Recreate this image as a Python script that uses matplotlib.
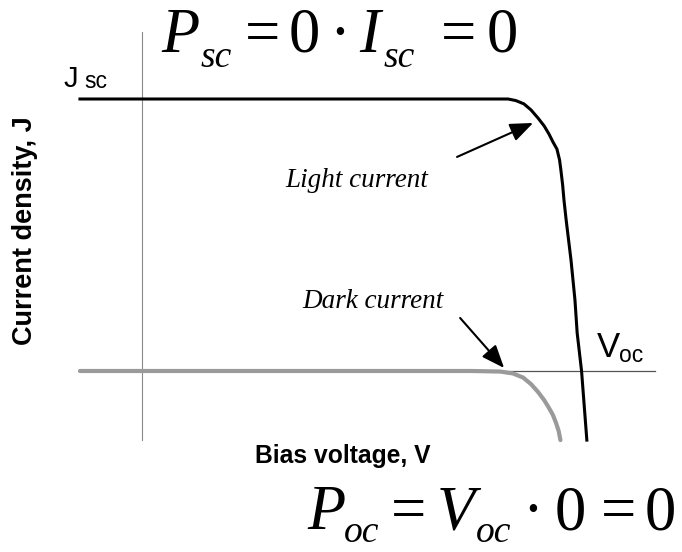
import numpy as np
import matplotlib
matplotlib.use("Agg")
import matplotlib.pyplot as plt

# --------------------------
# DADOS (V normalizado por Voc, J normalizado por Jsc)
# --------------------------

light_v = [-0.141, 0.832, 0.850, 0.868, 0.884, 0.900, 0.914, 0.925, 0.934,
           0.943, 0.949, 0.952, 0.956, 0.959, 0.964, 0.975, 0.984, 0.989,
           0.999, 1.011]
light_j = [1.0, 1.0, 0.994, 0.982, 0.960, 0.930, 0.901, 0.871, 0.842,
           0.816, 0.776, 0.739, 0.684, 0.629, 0.555, 0.408, 0.261, 0.140,
           0.0, -0.254]

dark_v = [-0.141, 0.75, 0.814, 0.843, 0.866, 0.884, 0.900, 0.914, 0.925,
          0.934, 0.941, 0.947, 0.951]
dark_j = [0.0, 0.0, -0.002, -0.009, -0.024, -0.048, -0.077, -0.107, -0.136,
          -0.162, -0.191, -0.221, -0.254]

axis_v = [0.0, 1.166]     # extensão do eixo horizontal
axis_j = [-0.254, 1.246]  # extensão do eixo vertical

# equações, peça a peça: (texto, itálico?, subscrito?)
eq_top = [("P", 1, 0), ("sc", 1, 1), ("=", 0, 0), ("0", 0, 0), ("\u00b7", 0, 0),
          ("I", 1, 0), ("sc", 1, 1), ("=", 0, 0), ("0", 0, 0)]
eq_bottom = [("P", 1, 0), ("oc", 1, 1), ("=", 0, 0), ("V", 1, 0), ("oc", 1, 1),
             ("\u00b7", 0, 0), ("0", 0, 0), ("=", 0, 0), ("0", 0, 0)]

# centros horizontais (px) de cada peça
eq_top_x = [180, 216, 262, 304, 340, 370, 399, 459, 502]
eq_bottom_x = [326, 362, 409, 456, 494, 533, 570, 618, 660]

# --------------------------
# FIGURA
# --------------------------

W, H = 682, 552
plt.rcParams["font.family"] = ["Liberation Sans", "DejaVu Sans"]

fig = plt.figure(figsize=(W / 100, H / 100), dpi=100)
ax = fig.add_axes([0, 0, 1, 1])

# escala: origem em (142, 371) px, Voc -> 440 px, Jsc -> 272 px
ax.set_xlim(-142 / 440, (W - 142) / 440)
ax.set_ylim(-(H - 371) / 272, 371 / 272)
ax.axis("off")


def px(x, y):
    # pixel da imagem -> fração da figura
    return x / W, 1 - y / H


# eixos finos
ax.plot([0, 0], axis_j, color="#8a8a8a", lw=0.8)
ax.plot(axis_v, [0, 0], color="#555555", lw=0.9)

# curvas
ax.plot(dark_v, dark_j, color="#9a9a9a", lw=3.0, solid_capstyle="round",
        solid_joinstyle="round")
ax.plot(light_v, light_j, color="black", lw=2.2, solid_joinstyle="round")

# setas
seta = dict(arrowstyle="-|>,head_length=0.5,head_width=0.2", color="black",
            lw=1.5, mutation_scale=28, shrinkA=0, shrinkB=0)
ax.annotate("", xy=(0.889, 0.912), xytext=(0.716, 0.787), arrowprops=seta)
ax.annotate("", xy=(0.823, 0.011), xytext=(0.723, 0.195), arrowprops=seta)

# textos
serif_it = dict(family="Liberation Serif", style="italic", size=19.5)
fig.text(*px(285, 187), "Light current", ha="left", va="baseline", **serif_it)
fig.text(*px(302, 308), "Dark current", ha="left", va="baseline", **serif_it)

fig.text(*px(64, 87), "J", ha="left", va="baseline", size=21)
fig.text(*px(84, 88), "sc", ha="left", va="baseline", size=16.5)
fig.text(*px(597, 357), "V", ha="left", va="baseline", size=25)
fig.text(*px(619, 362), "oc", ha="left", va="baseline", size=16.5)

fig.text(*px(255, 463), "Bias voltage, V", ha="left", va="baseline",
         size=17.7, weight="bold")
fig.text(*px(25, 231), "Current density, J", ha="center", va="center",
         rotation=90, size=19.5, weight="bold")


def equacao(partes, xs, base, queda):
    for (s, it, sub), x in zip(partes, xs):
        y = base + queda if sub else base
        fig.text(*px(x, y), s, ha="center", va="baseline",
                 family="Liberation Serif",
                 style="italic" if it else "normal",
                 size=27 if sub else 45)


equacao(eq_top, eq_top_x, 52, 15)
equacao(eq_bottom, eq_bottom_x, 529, 13)

fig.savefig("out.png", dpi=100, facecolor="white")
